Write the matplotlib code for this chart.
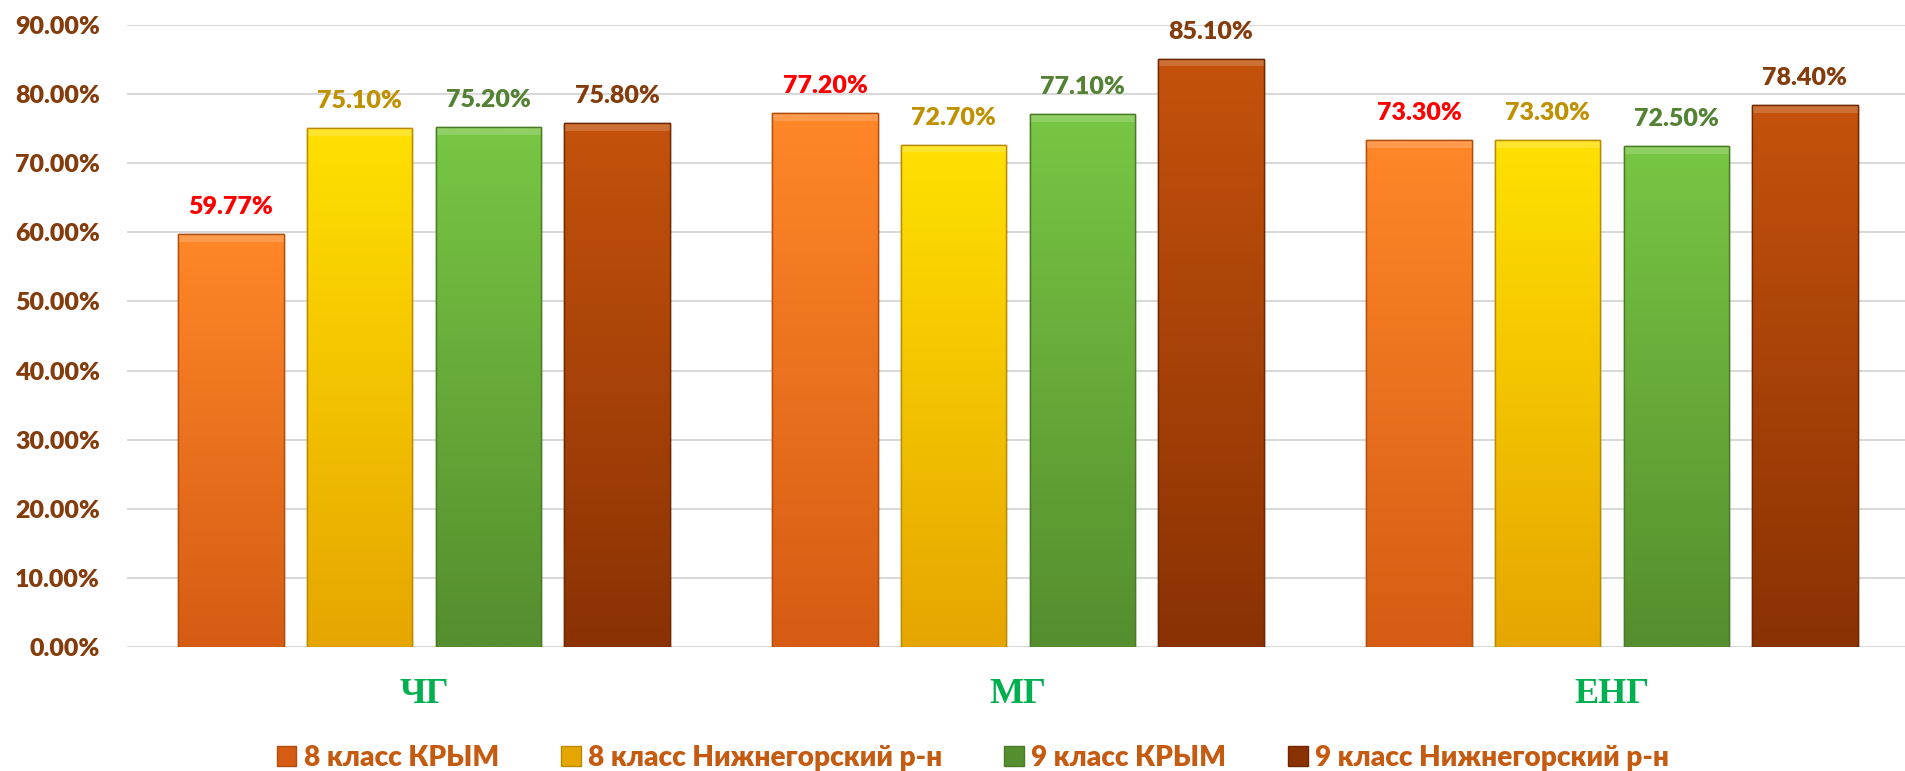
import numpy as np
import matplotlib
matplotlib.use('Agg')
import matplotlib.pyplot as plt
import matplotlib.transforms as mtrans
from matplotlib.colors import to_rgb
from matplotlib.patches import Rectangle

# ---------------- data ----------------
categories = ['ЧГ', 'МГ', 'ЕНГ']
series_names = ['8 класс КРЫМ', '8 класс Нижнегорский р-н',
                '9 класс КРЫМ', '9 класс Нижнегорский р-н']
grade8_crimea = [59.77, 77.20, 73.30]
grade8_nizh = [75.10, 72.70, 73.30]
grade9_crimea = [75.20, 77.10, 72.50]
grade9_nizh = [75.80, 85.10, 78.40]
y_ticks = [0, 10, 20, 30, 40, 50, 60, 70, 80, 90]

series_values = [grade8_crimea, grade8_nizh, grade9_crimea, grade9_nizh]

# ---------------- style ----------------
grad_colors = [('#FF8728', '#D65C14'),
               ('#FFE000', '#E6A600'),
               ('#78C644', '#558E2E'),
               ('#C4520C', '#8A3204')]
edge_colors = ['#B04E10', '#B88A00', '#4A7A28', '#6E2802']
label_colors = ['#FF0000', '#BF9000', '#548235', '#843C0C']
sans = ['Lato', 'DejaVu Sans']
serif = ['Liberation Serif', 'DejaVu Serif']
WEIGHT = 'heavy'

W, H = 1905, 771
fig = plt.figure(figsize=(W / 100, H / 100), dpi=100)
ax_left, ax_right, ax_top, ax_bot = 127, 1909, 25, 647
ax = fig.add_axes([ax_left / W, (H - ax_bot) / H,
                   (ax_right - ax_left) / W, (ax_bot - ax_top) / H])

n = len(series_values)
bar_w = 0.177
step = 0.2166
x = np.arange(len(categories))

for gi, y in enumerate(y_ticks):
    ax.axhline(y, color='#D9D9D9', lw=1.5, zorder=0)

legend_handles = []
for si, vals in enumerate(series_values):
    xs = x + (si - (n - 1) / 2) * step
    bars = ax.bar(xs, vals, width=bar_w, color=grad_colors[si][0],
                  edgecolor=edge_colors[si], linewidth=1.0, zorder=2)
    top = np.array(to_rgb(grad_colors[si][0]))
    bot = np.array(to_rgb(grad_colors[si][1]))
    t = np.linspace(0, 1, 64)[:, None]
    grad = (top[None, :] * (1 - t) + bot[None, :] * t)[:, None, :]
    grad = np.repeat(grad, 2, axis=1)
    for b, v in zip(bars, vals):
        x0 = b.get_x()
        im = ax.imshow(grad, extent=[x0, x0 + b.get_width(), 0, v],
                       aspect='auto', zorder=2.5, interpolation='bilinear')
        im.set_clip_path(b)
        # top bevel highlight
        bev = Rectangle((x0, v - 1.1), b.get_width(), 1.1,
                        facecolor='white', alpha=0.18, edgecolor='none',
                        zorder=2.7)
        ax.add_patch(bev)
        outline = Rectangle((x0, 0), b.get_width(), v, facecolor='none',
                            edgecolor=edge_colors[si], linewidth=1.0, zorder=2.8)
        ax.add_patch(outline)
        ax.annotate(f'{v:.2f}%', (b.get_x() + b.get_width() / 2, v),
                    xytext=(0, 14.4), textcoords='offset points',
                    ha='center', va='baseline', fontsize=18,
                    fontweight=WEIGHT, family=sans, color=label_colors[si],
                    zorder=4)
    legend_handles.append(Rectangle((0, 0), 1, 1,
                                    facecolor=grad_colors[si][1],
                                    edgecolor=edge_colors[si], linewidth=1.0))

ax.set_xlim(-0.5, len(categories) - 0.5)
ax.set_ylim(0, 90)
ax.set_yticks(y_ticks)
ax.set_yticklabels([f'{v:.2f}%' for v in y_ticks], fontsize=18,
                   fontweight=WEIGHT, family=sans, color='#843C0C')
ax.tick_params(axis='y', length=0, pad=19.4)
ax.set_xticks([])
for s in ax.spines.values():
    s.set_visible(False)

trans = mtrans.blended_transform_factory(ax.transData, ax.transAxes)
for xi, c in zip(x, categories):
    ax.text(xi, -56 / (ax_bot - ax_top), c, transform=trans, ha='center',
            va='baseline', fontsize=26, fontweight='bold', family=serif,
            color='#00B050')

leg = fig.legend(legend_handles, series_names, loc='center',
                 bbox_to_anchor=(973 / W, 1 - 758 / H), ncol=4,
                 frameon=False, prop={'family': sans, 'weight': WEIGHT,
                                      'size': 20.2},
                 handlelength=0.7, handleheight=0.7, handletextpad=0.27,
                 columnspacing=2.2, borderpad=0, borderaxespad=0)
for txt in leg.get_texts():
    txt.set_color('#C55A11')

fig.savefig('out.png', dpi=100)
